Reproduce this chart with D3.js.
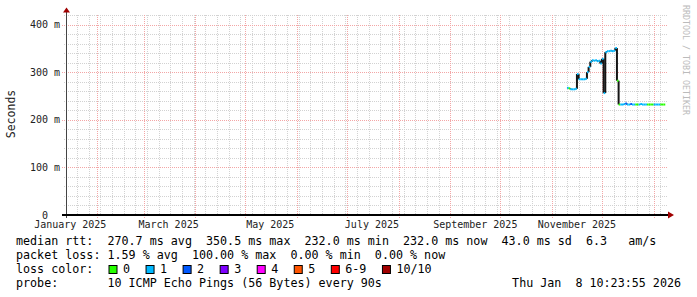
<!DOCTYPE html>

<head>
  <meta charset="utf-8">
  <title>smokeping 360 days</title>
  <script src="https://cdn.jsdelivr.net/npm/d3@7"></script>
  <style>
    body {
      margin: 0;
      background: #fff;
    }
    text {
      font-family: "DejaVu Sans Mono", monospace;
      white-space: pre;
    }
  </style>
</head>

<body>
    <script>
        // time window of the graph (last 360 days)
        var startTime = new Date(2025, 0, 13, 10, 23, 55);
        var endTime = new Date(2026, 0, 8, 10, 23, 55);
        // first daily step that has data, one value per day after it
        var firstStep = new Date(2025, 10, 11);

        // median rtt per day in ms
        var rttMs = [267, 266, 264, 264, 264, 265, 296, 285, 285, 285,
                     285, 286, 300, 311, 322, 325, 324, 325, 323, 324,
                     318, 328, 256, 342, 344, 344, 345, 344, 345, 350.5,
                     282, 232, 232, 232, 233, 234, 232, 232, 233, 232,
                     232, 232, 232, 232, 233, 232, 232, 232, 232, 232,
                     232, 232, 232, 232, 232, 232, 232, 232, 232];
        // loss class per day (index into lossLevels)
        var lossIdx = [1, 0, 1, 1, 1, 1, 1, 1, 1, 1,
                       1, 1, 1, 1, 1, 1, 1, 1, 1, 1,
                       1, 1, 1, 1, 1, 1, 1, 1, 1, 1,
                       0, 0, 1, 1, 1, 2, 1, 1, 2, 1,
                       1, 0, 0, 1, 1, 1, 1, 1, 0, 0,
                       0, 0, 1, 1, 1, 1, 0, 0, 0];

        var lossLevels = ["0", "1", "2", "3", "4", "5", "6-9", "10/10"];
        var lossColors = ["#26ff00", "#00b8ff", "#0059ff", "#7e00ff",
                          "#ff00ff", "#ff5500", "#ff0000", "#a10000"];

        var yTicks = [0, 100, 200, 300, 400];
        var yMax = 420;
        var monthLabels = ["January 2025", "March 2025", "May 2025",
                           "July 2025", "September 2025", "November 2025"];
        var monthLabelDates = [new Date(2025, 0, 16), new Date(2025, 2, 16),
                               new Date(2025, 4, 16), new Date(2025, 6, 16),
                               new Date(2025, 8, 16), new Date(2025, 10, 16)];

        var statLines = [
            "median rtt:  270.7 ms avg  350.5 ms max  232.0 ms min  232.0 ms now  43.0 ms sd  6.3   am/s",
            "packet loss: 1.59 % avg  100.00 % max  0.00 % min  0.00 % now"
        ];
        var lossTitle = "loss color:";
        var probeLine = "probe:       10 ICMP Echo Pings (56 Bytes) every 90s";
        var stampText = "Thu Jan  8 10:23:55 2026";
        var yTitle = "Seconds";
        var watermark = "RRDTOOL / TOBI OETIKER";

        function drawChart() {
            var svg = d3.select("body")
                .append("svg")
                .attr("width", 697)
                .attr("height", 297);

            var x = d3.scaleTime().domain([startTime, endTime]).range([66, 666]);
            var y = d3.scaleLinear().domain([0, yMax]).range([215, 15]);
            var px = v => Math.round(v) + 0.5;

            var minorColor = "#d2d2d2";
            var majorColor = "#f3a6a6";

            // horizontal grid
            var minorY = d3.range(20, yMax + 1, 20).filter(v => v % 100 != 0);
            svg.append("g").selectAll("line")
                .data(minorY)
                .enter()
                .append("line")
                    .attr("x1", 64).attr("x2", 668)
                    .attr("y1", d => px(y(d))).attr("y2", d => px(y(d)))
                    .style("stroke", minorColor)
                    .style("stroke-dasharray", "1,1");

            // vertical minor grid, weekly
            var weeks = d3.timeMonday.range(startTime, endTime);
            svg.append("g").selectAll("line")
                .data(weeks)
                .enter()
                .append("line")
                    .attr("x1", d => px(x(d))).attr("x2", d => px(x(d)))
                    .attr("y1", 15).attr("y2", 217)
                    .style("stroke", minorColor)
                    .style("stroke-dasharray", "1,1");

            // major grid
            svg.append("g").selectAll("line")
                .data(yTicks.filter(v => v > 0))
                .enter()
                .append("line")
                    .attr("x1", 62).attr("x2", 668)
                    .attr("y1", d => px(y(d))).attr("y2", d => px(y(d)))
                    .style("stroke", majorColor)
                    .style("stroke-dasharray", "1,1");

            var months = d3.timeMonth.range(startTime, endTime);
            svg.append("g").selectAll("line")
                .data(months)
                .enter()
                .append("line")
                    .attr("x1", d => px(x(d))).attr("x2", d => px(x(d)))
                    .attr("y1", 15).attr("y2", 219)
                    .style("stroke", majorColor)
                    .style("stroke-dasharray", "1,1");

            // y labels, number and unit like rrdtool "%4.0lf %s"
            var yl = svg.append("g").selectAll("g")
                .data(yTicks)
                .enter()
                .append("g");
            yl.append("text")
                .attr("x", 48)
                .attr("y", d => y(d) + 3.5)
                .attr("text-anchor", "end")
                .style("font-size", "10px")
                .style("fill", "#222")
                .text(d => d);
            yl.append("text")
                .attr("x", 54)
                .attr("y", d => y(d) + 3.5)
                .style("font-size", "10px")
                .style("fill", "#222")
                .text(d => d == 0 ? "" : "m");

            // x labels
            svg.append("g").selectAll("text")
                .data(monthLabels)
                .enter()
                .append("text")
                    .attr("x", (d, i) => x(monthLabelDates[i]))
                    .attr("y", 228)
                    .attr("text-anchor", "middle")
                    .style("font-size", "10px")
                    .style("fill", "#222")
                    .text(d => d);

            // data: black smoke connectors then loss coloured median
            var steps = rttMs.map((v, i) => ({
                t1: d3.timeDay.offset(firstStep, i - 1),
                t2: d3.timeDay.offset(firstStep, i),
                v: v,
                loss: lossIdx[i]
            }));

            svg.append("g").selectAll("line")
                .data(steps.slice(1))
                .enter()
                .append("line")
                    .attr("x1", d => x(d.t1)).attr("x2", d => x(d.t1))
                    .attr("y1", (d, i) => y(steps[i].v))
                    .attr("y2", d => y(d.v))
                    .style("stroke", "#151515")
                    .style("stroke-width", 2);

            svg.append("g").selectAll("line")
                .data(steps)
                .enter()
                .append("line")
                    .attr("x1", d => x(d.t1)).attr("x2", d => x(d.t2))
                    .attr("y1", d => y(d.v)).attr("y2", d => y(d.v))
                    .style("stroke", d => lossColors[d.loss])
                    .style("stroke-width", 2);

            // axes and arrows
            svg.append("line")
                .attr("x1", 66.5).attr("x2", 66.5)
                .attr("y1", 10).attr("y2", 218)
                .style("stroke", "#444")
                .style("stroke-width", 1);
            svg.append("line")
                .attr("x1", 62).attr("x2", 669)
                .attr("y1", 215).attr("y2", 215)
                .style("stroke", "#000")
                .style("stroke-width", 2);
            svg.append("path")
                .attr("d", "M63,12.5L66.5,7.5L70,12.5Z")
                .style("fill", "#a00000");
            svg.append("path")
                .attr("d", "M668,211.5L674,215L668,218.5Z")
                .style("fill", "#a00000");

            // axis title and watermark
            svg.append("text")
                .attr("transform", "translate(15,114) rotate(-90)")
                .attr("text-anchor", "middle")
                .style("font-size", "11.5px")
                .style("fill", "#222")
                .text(yTitle);
            svg.append("text")
                .attr("transform", "translate(683,5) rotate(90)")
                .style("font-size", "8.3px")
                .style("fill", "#bbb")
                .text(watermark);

            // legend
            var fs = 11.7;
            svg.append("g").selectAll("text")
                .data(statLines)
                .enter()
                .append("text")
                    .attr("x", 16)
                    .attr("y", (d, i) => 245 + i * 14)
                    .attr("xml:space", "preserve")
                    .style("font-size", fs + "px")
                    .text(d => d);

            svg.append("text")
                .attr("x", 16).attr("y", 273)
                .style("font-size", fs + "px")
                .text(lossTitle);

            var cw = 7.05;
            var bx = 108.5;
            lossLevels.forEach(function(lbl, i) {
                svg.append("rect")
                    .attr("x", bx + 0.5).attr("y", 265.5)
                    .attr("width", 8).attr("height", 8)
                    .style("fill", lossColors[i])
                    .style("stroke", "#000")
                    .style("stroke-width", 1);
                svg.append("text")
                    .attr("x", bx + 14.5).attr("y", 273)
                    .style("font-size", fs + "px")
                    .text(lbl);
                bx = bx + 14.5 + lbl.length * cw + 15.5;
            });

            svg.append("text")
                .attr("x", 16).attr("y", 287)
                .attr("xml:space", "preserve")
                .style("font-size", fs + "px")
                .text(probeLine);
            svg.append("text")
                .attr("x", 681).attr("y", 287)
                .attr("text-anchor", "end")
                .attr("xml:space", "preserve")
                .style("font-size", fs + "px")
                .text(stampText);
        }
        drawChart();
    </script>
</body>
